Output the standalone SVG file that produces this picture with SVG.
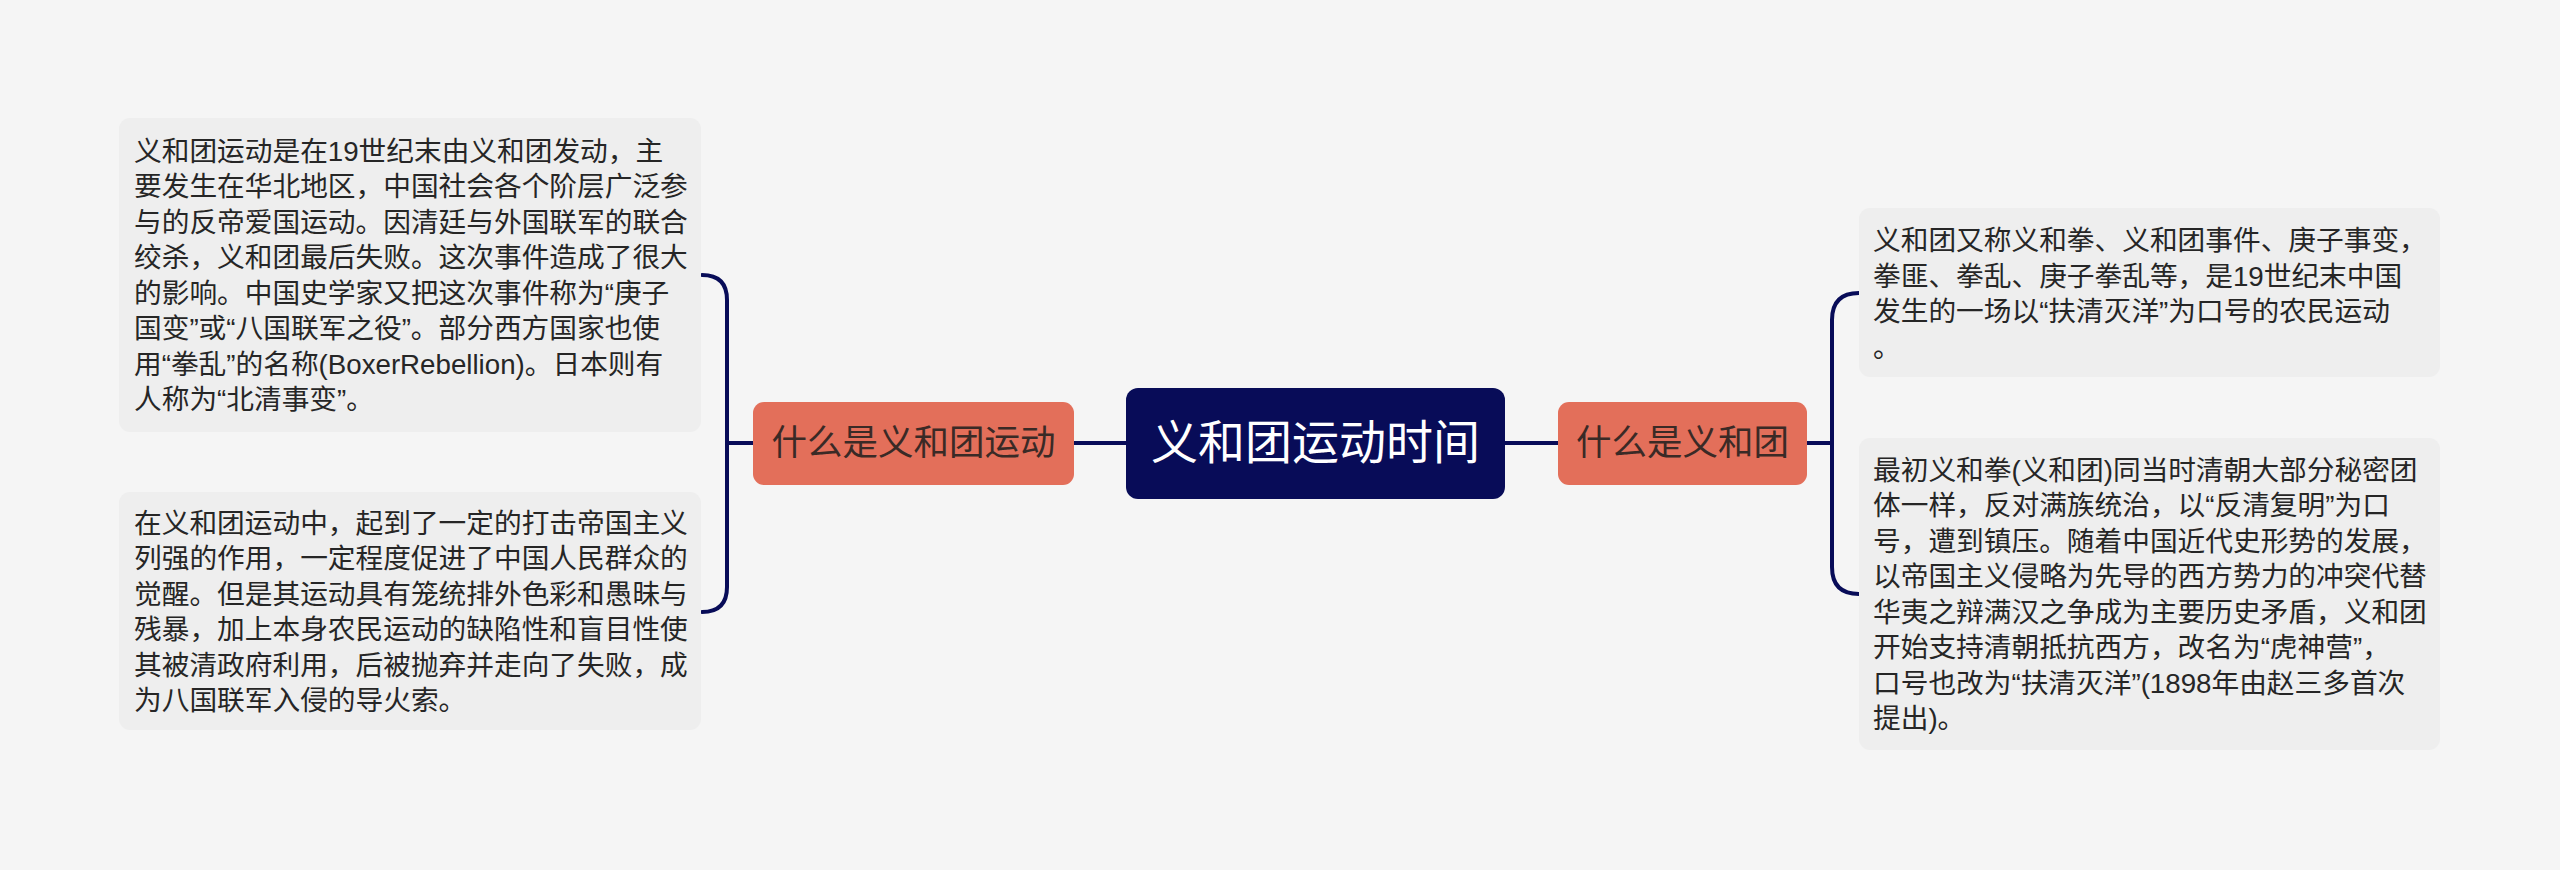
<svg xmlns="http://www.w3.org/2000/svg" width="2560" height="870" viewBox="0 0 2560 870">
<style>
.bg{fill:#f5f5f5}
.box{fill:#eeeeee}
.sub{fill:#e36f5a}
.root{fill:#080c58}
.t{font-family:"Liberation Sans","Noto Sans CJK SC",sans-serif;font-size:27.7px;fill:#262626}
.st{font-family:"Noto Sans CJK SC",sans-serif;font-size:35.5px;fill:#3a2a26;text-anchor:middle}
.rt{font-family:"Noto Sans CJK SC",sans-serif;font-size:47px;fill:#ffffff;text-anchor:middle}
.c{fill:none;stroke:#080c58;stroke-width:4;stroke-linecap:round}
</style>
<rect class="bg" x="0" y="0" width="2560" height="870"/>
<g id="connectors">
<path class="c" d="M1074 443 H1126"/>
<path class="c" d="M1505 443 H1558"/>
<path class="c" d="M753 443 H727"/>
<path class="c" d="M702 275 Q727 275 727 300 V587 Q727 612 702 612"/>
<path class="c" d="M1807 443 H1832"/>
<path class="c" d="M1859 293 Q1832 293 1832 320 V567 Q1832 594 1859 594"/>
</g>
<g id="root">
<rect class="root" x="1126" y="388" width="379" height="111" rx="12"/>
<text class="rt" x="1315.5" y="459">义和团运动时间</text>
</g>
<g id="sub-left">
<rect class="sub" x="753" y="402" width="321" height="83" rx="11"/>
<text class="st" x="913.5" y="455">什么是义和团运动</text>
</g>
<g id="sub-right">
<rect class="sub" x="1558" y="402" width="249" height="83" rx="11"/>
<text class="st" x="1682.5" y="455">什么是义和团</text>
</g>
<g id="leaf-l1">
<rect class="box" x="119" y="118" width="582" height="314" rx="11"/>
<text class="t" x="134" y="160.5">义和团运动是在19世纪末由义和团发动，主</text>
<text class="t" x="134" y="196">要发生在华北地区，中国社会各个阶层广泛参</text>
<text class="t" x="134" y="231.5">与的反帝爱国运动。因清廷与外国联军的联合</text>
<text class="t" x="134" y="267">绞杀，义和团最后失败。这次事件造成了很大</text>
<text class="t" x="134" y="302.5">的影响。中国史学家又把这次事件称为“庚子</text>
<text class="t" x="134" y="338">国变”或“八国联军之役”。部分西方国家也使</text>
<text class="t" x="134" y="373.5">用“拳乱”的名称(BoxerRebellion)。日本则有</text>
<text class="t" x="134" y="409">人称为“北清事变”。</text>
</g>
<g id="leaf-l2">
<rect class="box" x="119" y="492" width="582" height="238" rx="11"/>
<text class="t" x="134" y="532.5">在义和团运动中，起到了一定的打击帝国主义</text>
<text class="t" x="134" y="568">列强的作用，一定程度促进了中国人民群众的</text>
<text class="t" x="134" y="603.5">觉醒。但是其运动具有笼统排外色彩和愚昧与</text>
<text class="t" x="134" y="639">残暴，加上本身农民运动的缺陷性和盲目性使</text>
<text class="t" x="134" y="674.5">其被清政府利用，后被抛弃并走向了失败，成</text>
<text class="t" x="134" y="710">为八国联军入侵的导火索。</text>
</g>
<g id="leaf-r1">
<rect class="box" x="1859" y="208" width="581" height="169" rx="11"/>
<text class="t" x="1873" y="250">义和团又称义和拳、义和团事件、庚子事变，</text>
<text class="t" x="1873" y="285.5">拳匪、拳乱、庚子拳乱等，是19世纪末中国</text>
<text class="t" x="1873" y="321">发生的一场以“扶清灭洋”为口号的农民运动</text>
<text class="t" x="1873" y="357">。</text>
</g>
<g id="leaf-r2">
<rect class="box" x="1859" y="438" width="581" height="312" rx="11"/>
<text class="t" x="1873" y="479.5">最初义和拳(义和团)同当时清朝大部分秘密团</text>
<text class="t" x="1873" y="515">体一样，反对满族统治，以“反清复明”为口</text>
<text class="t" x="1873" y="550.5">号，遭到镇压。随着中国近代史形势的发展，</text>
<text class="t" x="1873" y="586">以帝国主义侵略为先导的西方势力的冲突代替</text>
<text class="t" x="1873" y="621.5">华夷之辩满汉之争成为主要历史矛盾，义和团</text>
<text class="t" x="1873" y="657">开始支持清朝抵抗西方，改名为“虎神营”，</text>
<text class="t" x="1873" y="692.5">口号也改为“扶清灭洋”(1898年由赵三多首次</text>
<text class="t" x="1873" y="728">提出)。</text>
</g>
</svg>
